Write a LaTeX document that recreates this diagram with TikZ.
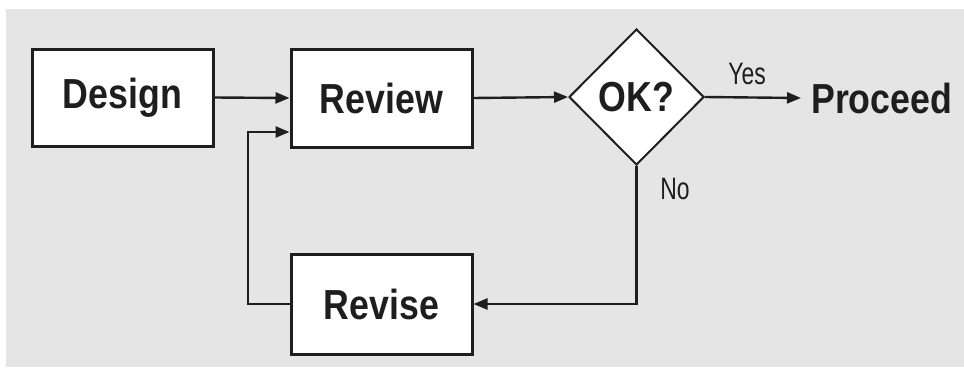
\documentclass[tikz,border=0pt]{standalone}
\usepackage{fontspec}
\setmainfont{Liberation Sans}
\newfontfamily\boxfont{Liberation Sans}[FakeStretch=0.85]
\newfontfamily\tagfont{Liberation Sans}[FakeStretch=0.74]
\usetikzlibrary{shapes.geometric,arrows.meta}
\definecolor{panel}{HTML}{E5E5E5}
\definecolor{ink}{HTML}{1E1E1E}
\tikzset{
  stepbox/.style={draw=ink, fill=white, line width=3pt, inner sep=0pt,
    minimum width=181pt, font=\boxfont\bfseries\fontsize{42}{42}\selectfont, text=ink},
  decision/.style={diamond, draw=ink, fill=white, line width=2pt, inner sep=0pt,
    minimum width=135pt, minimum height=136pt,
    font=\boxfont\bfseries\fontsize{42}{42}\selectfont, text=ink},
  flow/.style={draw=ink, line width=2.4pt, -{Triangle[length=14pt,width=11pt]}},
  tag/.style={font=\tagfont\fontsize{31}{31}\selectfont, text=ink, inner sep=0pt},
}
\begin{document}
\begin{tikzpicture}[x=1pt,y=-1pt]
  \useasboundingbox (0,0) rectangle (964,367);
  \fill[panel] (6,9) rectangle (964,367);

  \node[stepbox, minimum height=97pt] (design) at (122.5,97.5) {Design};
  \node[stepbox, minimum height=98pt] (review) at (381.5,98) {Review};
  \node[stepbox, minimum height=100pt] (revise) at (381.5,304) {Revise};
  \node[decision] (ok) at (636.5,97) {OK?};
  \node[anchor=west, inner sep=0pt, font=\boxfont\bfseries\fontsize{42}{42}\selectfont, text=ink]
    (proceed) at (811,98) {Proceed};

  \coordinate (reviewin) at ([yshift=-34pt]review.west);
  \coordinate (loopcorner) at (248,304);

  \draw[flow] (design.east) -- (review.west);
  \draw[flow] (review.east) -- (ok.west);
  \draw[flow] (ok.east) -- ([xshift=-10pt]proceed.west);
  \draw[flow] (ok.south) |- (revise.east);
  \draw[flow] (revise.west) -- (loopcorner) |- (reviewin);

  \node[tag] (yes) at (747,74) {Yes};
  \node[tag] (no) at (675,189) {No};
\end{tikzpicture}
\end{document}
